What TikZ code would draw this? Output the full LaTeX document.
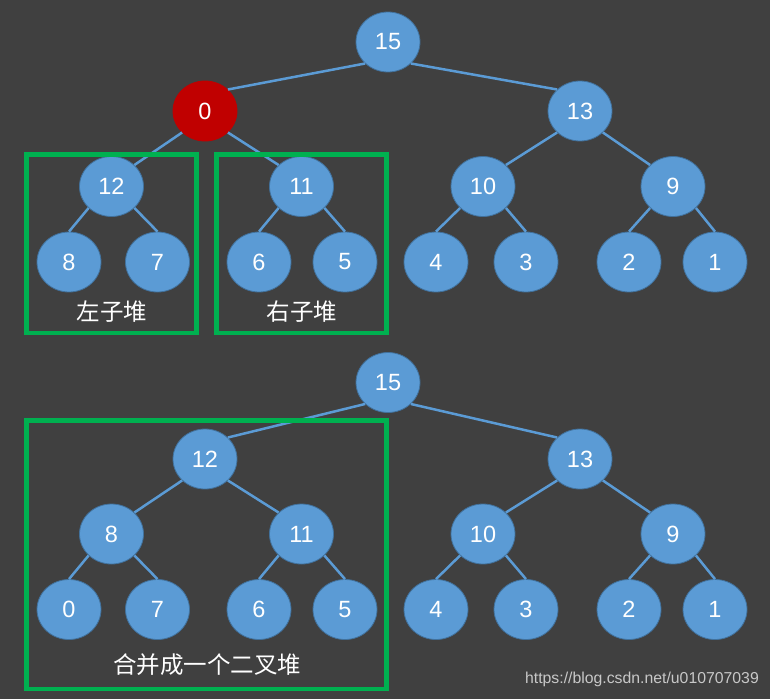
\documentclass[tikz,border=0pt]{standalone}
\usepackage{fontspec}
\setmainfont{Liberation Sans}
\newfontfamily\cjk{Noto Sans CJK SC}
\usetikzlibrary{shapes.geometric}
\definecolor{bgc}{HTML}{404040}
\definecolor{nodefill}{HTML}{5B9BD5}
\definecolor{nodeline}{HTML}{41719C}
\definecolor{redfill}{HTML}{C00000}
\definecolor{boxgreen}{HTML}{00B050}
\definecolor{wmark}{HTML}{C8C8C8}
\tikzset{
  hnode/.style={ellipse, minimum width=64pt, minimum height=60pt, inner sep=0pt,
    fill=nodefill, draw=nodeline, line width=0.8pt, text=white,
    font=\fontsize{23.5}{26}\selectfont},
  rednode/.style={hnode, fill=redfill, draw=redfill},
  edge/.style={draw=nodefill, line width=2.5pt},
  gbox/.style={draw=boxgreen, line width=4.5pt, inner sep=0pt},
  lbl/.style={text=white, inner sep=0pt},
  cjklbl/.style={lbl, font=\cjk\fontsize{23.5}{26}\selectfont},
}
\begin{document}
\begin{tikzpicture}[x=1pt,y=-1pt]
\fill[bgc] (0,0) rectangle (770,699);
\useasboundingbox (0,0) rectangle (770,699);
% ---------- top tree ----------
\node[hnode] (t15) at (388,42) {15};
\node[rednode] (t0) at (205,111) {0};
\node[hnode] (t13) at (580,111) {13};
\node[hnode] (t12) at (111.5,186.5) {12};
\node[hnode] (t11) at (301.5,186.5) {11};
\node[hnode] (t10) at (483,186.5) {10};
\node[hnode] (t9) at (673,186.5) {9};
\node[hnode] (t8) at (69,262) {8};
\node[hnode] (t7) at (157.5,262) {7};
\node[hnode] (t6) at (259,262) {6};
\node[hnode] (t5) at (345,262) {5};
\node[hnode] (t4) at (436,262) {4};
\node[hnode] (t3) at (526,262) {3};
\node[hnode] (t2) at (629,262) {2};
\node[hnode] (t1) at (715,262) {1};
\draw[edge] (t15.south west) -- (t0.north east);
\draw[edge] (t15.south east) -- (t13.north west);
\draw[edge] (t0.south west) -- (t12.north east);
\draw[edge] (t0.south east) -- (t11.north west);
\draw[edge] (t13.south west) -- (t10.north east);
\draw[edge] (t13.south east) -- (t9.north west);
\draw[edge] (t12.south west) -- (t8.north);
\draw[edge] (t12.south east) -- (t7.north);
\draw[edge] (t11.south west) -- (t6.north);
\draw[edge] (t11.south east) -- (t5.north);
\draw[edge] (t10.south west) -- (t4.north);
\draw[edge] (t10.south east) -- (t3.north);
\draw[edge] (t9.south west) -- (t2.north);
\draw[edge] (t9.south east) -- (t1.north);
\node[gbox, minimum width=170pt, minimum height=178.5pt] (lbox) at (111.5,243.5) {};
\node[gbox, minimum width=170pt, minimum height=178.5pt] (rbox) at (301.5,243.5) {};
\node[cjklbl] (lname) at (112,312) {左子堆};
\node[cjklbl] (rname) at (302,312) {右子堆};
% ---------- bottom tree ----------
\node[hnode] (b15) at (388,382.5) {15};
\node[hnode] (b12) at (205,459) {12};
\node[hnode] (b13) at (580,459) {13};
\node[hnode] (b8) at (111.5,534) {8};
\node[hnode] (b11) at (301.5,534) {11};
\node[hnode] (b10) at (483,534) {10};
\node[hnode] (b9) at (673,534) {9};
\node[hnode] (b0) at (69,609.5) {0};
\node[hnode] (b7) at (157.5,609.5) {7};
\node[hnode] (b6) at (259,609.5) {6};
\node[hnode] (b5) at (345,609.5) {5};
\node[hnode] (b4) at (436,609.5) {4};
\node[hnode] (b3) at (526,609.5) {3};
\node[hnode] (b2) at (629,609.5) {2};
\node[hnode] (b1) at (715,609.5) {1};
\draw[edge] (b15.south west) -- (b12.north east);
\draw[edge] (b15.south east) -- (b13.north west);
\draw[edge] (b12.south west) -- (b8.north east);
\draw[edge] (b12.south east) -- (b11.north west);
\draw[edge] (b13.south west) -- (b10.north east);
\draw[edge] (b13.south east) -- (b9.north west);
\draw[edge] (b8.south west) -- (b0.north);
\draw[edge] (b8.south east) -- (b7.north);
\draw[edge] (b11.south west) -- (b6.north);
\draw[edge] (b11.south east) -- (b5.north);
\draw[edge] (b10.south west) -- (b4.north);
\draw[edge] (b10.south east) -- (b3.north);
\draw[edge] (b9.south west) -- (b2.north);
\draw[edge] (b9.south east) -- (b1.north);
\node[gbox, minimum width=360pt, minimum height=268.5pt] (mbox) at (206.5,554.75) {};
\node[cjklbl] (mname) at (207,665) {合并成一个二叉堆};
\node[lbl, text=wmark, font=\fontsize{15.8}{18}\selectfont, anchor=east] (wm) at (759,679) {https://blog.csdn.net/u010707039};
\end{tikzpicture}
\end{document}
